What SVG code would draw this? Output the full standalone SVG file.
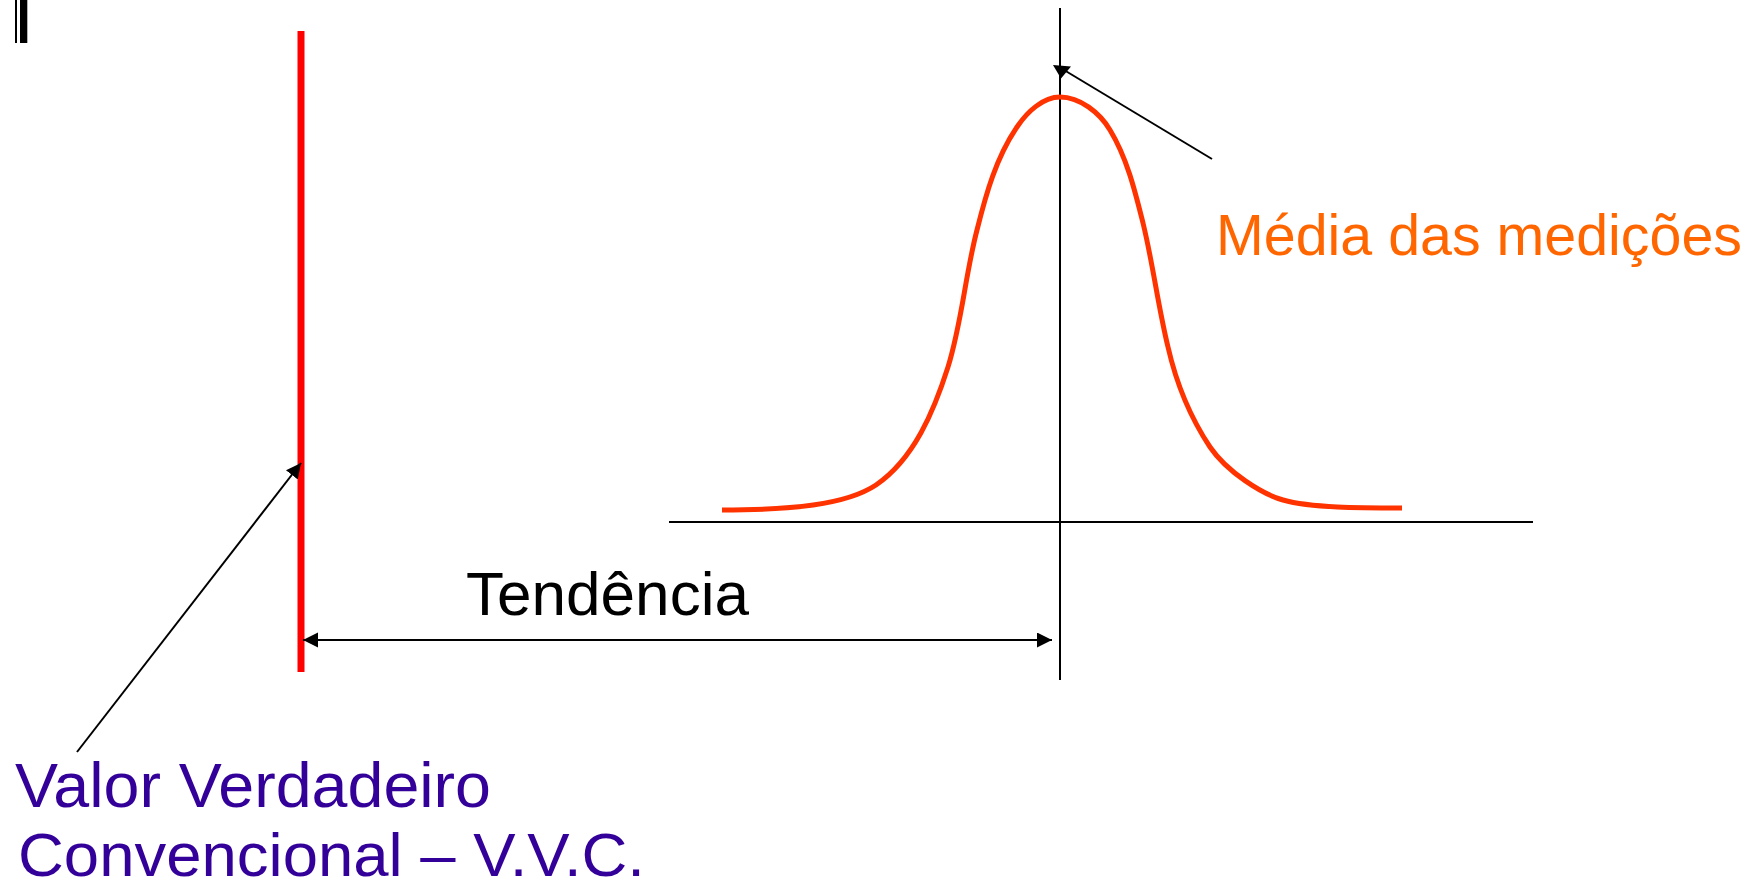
<svg xmlns="http://www.w3.org/2000/svg" width="1760" height="890" viewBox="0 0 1760 890">
<style>
.ln{stroke:#000;stroke-width:2;fill:none}
.ptr{stroke:#000;stroke-width:2;fill:none}
.lbl{font-family:"Liberation Sans",Arial,sans-serif}
</style>
<defs>
<marker id="ah" markerUnits="userSpaceOnUse" markerWidth="16" markerHeight="16" refX="15" refY="7.5" orient="auto-start-reverse" viewBox="0 0 16 16">
<path d="M0,0 L15,7.5 L0,15 z" fill="#000"/>
</marker>
</defs>
<rect width="1760" height="890" fill="#fff"/>
<g id="corner-mark">
<rect x="15" y="0" width="2" height="43" fill="#000"/>
<rect x="20" y="0" width="7.3" height="43" fill="#000"/>
</g>
<g id="axes">
<line class="ln" x1="669" y1="522" x2="1533" y2="522"/>
<line class="ln" x1="1060" y1="8" x2="1060" y2="680"/>
</g>
<g id="vvc-line">
<line x1="301" y1="31" x2="301" y2="672" stroke="#ff0000" stroke-width="7"/>
</g>
<g id="curve">
<path d="M722,510 C790,510 846,505 876,485 C914,459 934,411 948,367 C962,322 965,276 977,230 C986,194 996,158 1017,127 C1027,112 1043,97 1060,97 C1080,97 1100,113 1110,130 C1127,158 1135,191 1143,223 C1153,264 1158,306 1168,347 C1176,382 1190,417 1210,447 C1227,472 1262,494 1283,500 C1311,508 1360,508 1402,508" fill="none" stroke="#ff3300" stroke-width="5"/>
</g>
<g id="connectors">
<line class="ln" x1="303" y1="640" x2="1052" y2="640" marker-start="url(#ah)" marker-end="url(#ah)"/>
<line class="ptr" x1="77" y1="752" x2="301" y2="463" marker-end="url(#ah)"/>
<line class="ptr" x1="1212" y1="159" x2="1064" y2="70"/>
<polygon points="1053,65 1071,66.5 1061,78.5" fill="#000"/>
</g>
<g id="label-tendencia">
<text class="lbl" x="466" y="615" font-size="62" fill="#000" textLength="283" lengthAdjust="spacingAndGlyphs">Tendência</text>
</g>
<g id="label-media">
<text class="lbl" x="1216" y="255" font-size="57" fill="#ff6600" textLength="526" lengthAdjust="spacingAndGlyphs">Média das medições</text>
</g>
<g id="label-vvc">
<text class="lbl" x="15" y="807" font-size="63" fill="#330099" textLength="476" lengthAdjust="spacingAndGlyphs">Valor Verdadeiro</text>
<text class="lbl" x="18" y="876" font-size="62" fill="#330099" textLength="627" lengthAdjust="spacingAndGlyphs">Convencional – V.V.C.</text>
</g>
</svg>
